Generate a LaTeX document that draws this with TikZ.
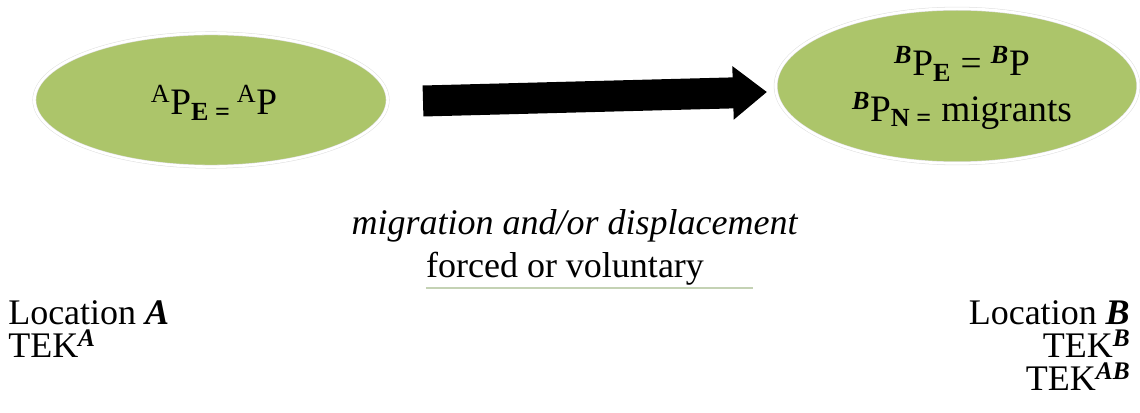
\documentclass[tikz,border=0pt]{standalone}
\usepackage{fontspec}
\setmainfont{Liberation Serif}
\usepackage{tikz}
\usetikzlibrary{shapes.geometric, arrows.meta, positioning, calc}
\usepackage{xcolor}
\definecolor{popgreen}{RGB}{172,197,106}
\definecolor{linegreen}{RGB}{196,210,180}

\newcommand{\supA}{\textsuperscript{A}}
\newcommand{\supB}{\textsuperscript{\textbf{\textit{B}}}}
\newcommand{\teksup}[1]{\raisebox{0.3em}{\fontsize{19}{19}\selectfont\bfseries\itshape #1}}

\begin{document}
\begin{tikzpicture}[x=0.75pt, y=-0.75pt,
		place/.style={ellipse, fill=popgreen, draw=black!12, double=white, double distance=2pt, inner sep=0pt},
		label text/.style={font=\fontsize{27}{25}\selectfont, inner sep=0pt},
		bigarrow/.style={line width=23.25pt, -{Triangle[length=25.5pt, width=38.5pt]}},
		uline/.style={linegreen, line width=1.5pt}]
			% Fix the page size (px coordinates, y downwards)
			\useasboundingbox (0,0) rectangle (1140,413);
			
			% The two locations
			\node[place, minimum width=265pt, minimum height=100pt] (A) at (211,100) {};
			\node[place, minimum width=272pt, minimum height=116pt] (B) at (957,86) {};
			
			% Population labels inside the ellipses
			\node[font=\fontsize{28}{34}\selectfont, inner sep=0pt] (Atext) at (214,103)
				{\supA P\textsubscript{\textbf{E =}}\,\supA P};
			\node[font=\fontsize{28}{34}\selectfont, inner sep=0pt, align=center] (Btext) at (962,88)
				{\supB P\textsubscript{\textbf{E}} = \supB P\\ \supB P\textsubscript{\textbf{N =}} migrants};
			
			% The movement arrow
			\coordinate (tail) at (423,101);
			\coordinate (tip) at (767,92);
			\draw[bigarrow] (tail) -- (tip);
			
			% Caption under the arrow
			\node[label text, anchor=base] (mig) at (575,235) {\textit{migration and/or displacement}};
			\node[label text, anchor=base] (fv) at (565,278) {forced or voluntary};
			\coordinate (ulend) at (753,288);
			\draw[uline] (fv.base west |- ulend) -- (ulend);
			
			% Location A
			\node[label text, anchor=north west, align=left] (locA) at (8,300)
				{Location \textbf{\textit{A}}\\ TEK\teksup{A}};
			
			% Location B
			\node[label text, anchor=north east, align=right] (locB) at (1130,300)
				{Location \textbf{\textit{B}}\\ TEK\teksup{B}\\ TEK\teksup{AB}};
			
		\end{tikzpicture}
\end{document}
